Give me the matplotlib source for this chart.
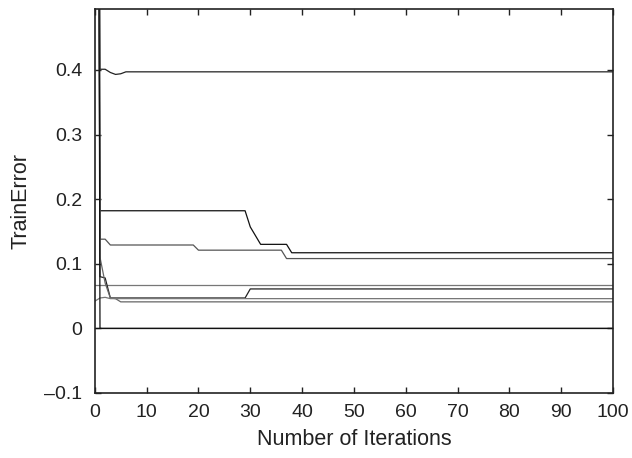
import matplotlib.pyplot as plt
import numpy as np

plt.rcParams['font.family'] = ['Liberation Sans', 'DejaVu Sans']

# iterations 0..100, each curve given as breakpoints (iteration, error)
# values between breakpoints stay flat
iters = np.arange(0, 101)

c1_x = [0, 1, 2, 3, 4, 5, 6, 100]
c1_y = [3.0, 0.401, 0.401, 0.396, 0.393, 0.394, 0.397, 0.397]

c2_x = [0, 1, 29, 30, 32, 37, 38, 100]
c2_y = [3.0, 0.182, 0.182, 0.157, 0.130, 0.130, 0.117, 0.117]

c3_x = [0, 1, 2, 3, 19, 20, 36, 37, 100]
c3_y = [3.0, 0.138, 0.138, 0.129, 0.129, 0.121, 0.121, 0.108, 0.108]

c4_x = [0, 100]
c4_y = [0.067, 0.067]

c5_x = [0, 1, 2, 3, 29, 30, 100]
c5_y = [3.0, 0.080, 0.078, 0.047, 0.047, 0.061, 0.061]

c6_x = [0, 1, 2, 3, 4, 5, 100]
c6_y = [3.0, 0.110, 0.070, 0.047, 0.046, 0.041, 0.041]

c7_x = [0, 1, 2, 3, 100]
c7_y = [0.042, 0.047, 0.048, 0.046, 0.046]

c8_x = [0, 1, 100]
c8_y = [3.0, 0.0, 0.0]

curves = [(c1_x, c1_y, '#222222'), (c2_x, c2_y, '#111111'), (c3_x, c3_y, '#555555'),
          (c4_x, c4_y, '#777777'), (c5_x, c5_y, '#222222'), (c6_x, c6_y, '#666666'),
          (c7_x, c7_y, '#777777'), (c8_x, c8_y, '#111111')]

ytick_vals = [-0.1, 0, 0.1, 0.2, 0.3, 0.4]
ytick_labels = ['\u20130.1', '0', '0.1', '0.2', '0.3', '0.4']
xtick_vals = list(range(0, 101, 10))

fig = plt.figure(figsize=(6.32, 4.58), dpi=100)
ax = fig.add_axes([0.150, 0.142, 0.820, 0.838])

for cx, cy, col in curves:
    # expand breakpoints onto every iteration
    ax.plot(iters, np.interp(iters, cx, cy), color=col, linewidth=0.9)
ax.axhline(0, color='#111111', linewidth=0.9)

ax.set_xlim(0, 100)
ax.set_ylim(-0.1, 0.494)
ax.set_xticks(xtick_vals)
ax.set_yticks(ytick_vals)
ax.set_yticklabels(ytick_labels)
ax.tick_params(direction='in', length=4, width=1, top=True, right=True,
               labelsize=14, colors='#222222')
ax.tick_params(axis='x', pad=8)
ax.tick_params(axis='y', pad=9)
for s in ax.spines.values():
    s.set_linewidth(1.2)
    s.set_color('#222222')

ax.set_xlabel('Number of Iterations', fontsize=15.5, color='#222222', labelpad=6)
ax.set_ylabel('TrainError', fontsize=15.5, color='#222222', labelpad=9)

fig.savefig('out.png', dpi=100)
